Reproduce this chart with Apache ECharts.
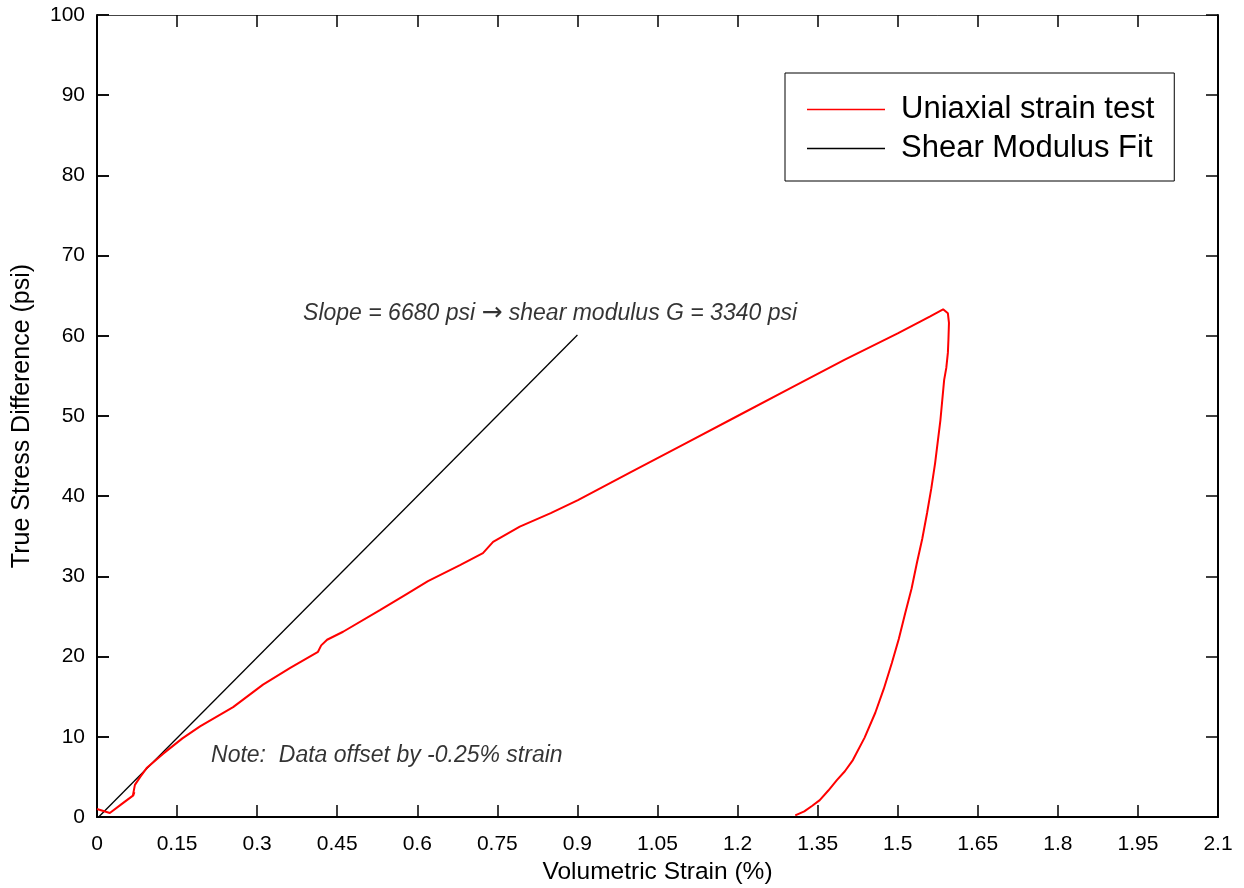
<!DOCTYPE html>
<html>
<head>
<meta charset="utf-8">
<script src="https://cdn.jsdelivr.net/npm/echarts@6/dist/echarts.min.js"></script>
<style>
html,body{margin:0;padding:0;background:#fff;}
#chart{width:1244px;height:888px;}
</style>
</head>
<body>
<div id="chart"></div>
<script>
// ---- data ----
const seriesNames = ['Uniaxial strain test', 'Shear Modulus Fit'];
// Volumetric strain (%) vs true stress difference (psi)
const uniaxialTest = [
  [0.000, 1.0], [0.024, 0.5], [0.046, 1.6], [0.068, 2.7], [0.070, 3.1], [0.067, 2.6],
  [0.071, 4.0], [0.081, 5.0], [0.093, 6.1], [0.124, 7.9], [0.160, 9.8], [0.193, 11.3],
  [0.255, 13.7], [0.311, 16.5], [0.362, 18.6], [0.414, 20.6], [0.420, 21.4],
  [0.431, 22.1], [0.461, 23.1], [0.530, 25.8], [0.580, 27.8], [0.620, 29.4],
  [0.680, 31.4], [0.723, 32.9], [0.742, 34.3], [0.792, 36.2], [0.850, 37.9],
  [0.901, 39.5], [1.000, 43.0], [1.100, 46.5], [1.200, 50.0], [1.300, 53.5],
  [1.400, 57.0], [1.500, 60.3], [1.560, 62.4], [1.585, 63.3], [1.594, 62.8],
  [1.596, 61.6], [1.595, 59.5], [1.594, 57.9], [1.591, 56.0], [1.587, 54.5],
  [1.580, 49.5], [1.570, 44.1], [1.563, 41.0], [1.555, 37.9], [1.546, 34.7],
  [1.536, 31.7], [1.526, 28.5], [1.514, 25.4], [1.502, 22.2], [1.489, 19.2],
  [1.474, 16.0], [1.458, 13.0], [1.438, 9.9], [1.416, 7.1], [1.401, 5.7],
  [1.386, 4.6], [1.370, 3.3], [1.354, 2.1], [1.340, 1.4], [1.325, 0.7], [1.308, 0.2]
];
const shearFit = [[0.003, 0.0], [0.900, 60.1]];
const xTicks = {min: 0, max: 2.1, interval: 0.15};
const yTicks = {min: 0, max: 100, interval: 10};
const annotations = [
  {text: 'Slope = 6680 psi {a|\u2192} shear modulus G = 3340 psi', at: [0.386, 62.8]},
  {text: 'Note:  Data offset by -0.25% strain', at: [0.2136, 7.7]}
];

const FONT = '"Liberation Sans", Arial, Helvetica, sans-serif';
const GRID_L = 97, GRID_R = 26, GRID_T = 15, GRID_B = 71, TICK_LEN = 12;
const chart = echarts.init(document.getElementById('chart'), null, {renderer: 'canvas'});

function axisLine(color, width) { return {show: true, onZero: false, lineStyle: {color: color, width: width}}; }
function tickIn() { return {show: true, inside: true, length: TICK_LEN, lineStyle: {color: '#000', width: 1.5}}; }

const option = {
  animation: false,
  backgroundColor: '#fff',
  grid: [
    {left: GRID_L, right: GRID_R, top: GRID_T, bottom: GRID_B, containLabel: false, outerBoundsMode: 'none'},
    // narrow strip along the left frame: its split lines act as the inward tick marks
    {left: GRID_L, width: TICK_LEN, top: GRID_T, bottom: GRID_B, containLabel: false, outerBoundsMode: 'none', z: 10}
  ],
  legend: {
    data: seriesNames,
    orient: 'vertical',
    left: 785, top: 73,
    padding: [21, 20, 17, 22],
    itemGap: 8,
    icon: 'rect',
    itemWidth: 78, itemHeight: 1.6,
    borderColor: '#000', borderWidth: 1,
    backgroundColor: '#fff',
    selectedMode: false,
    textStyle: {fontFamily: FONT, fontSize: 31, color: '#000', lineHeight: 30, padding: [0, 0, 0, 11]}
  },
  xAxis: [{
    type: 'value', gridIndex: 0, position: 'bottom', min: xTicks.min, max: xTicks.max, interval: xTicks.interval,
    name: 'Volumetric Strain (%)', nameLocation: 'middle', nameGap: 42,
    nameTextStyle: {fontFamily: FONT, fontSize: 24.5, color: '#000'},
    axisLine: axisLine('#000', 2), axisTick: tickIn(), splitLine: {show: false},
    axisLabel: {fontFamily: FONT, fontSize: 21, color: '#000', margin: 17,
      formatter: v => String(Math.round(v * 100) / 100)}
  }, {
    type: 'value', gridIndex: 0, position: 'top', min: xTicks.min, max: xTicks.max, interval: xTicks.interval,
    axisLine: axisLine('#444', 1),
    axisTick: tickIn(), axisLabel: {show: false}, splitLine: {show: false}
  }, {
    type: 'value', gridIndex: 1, min: 0, max: 1, show: false
  }],
  yAxis: [{
    type: 'value', gridIndex: 0, position: 'left', min: yTicks.min, max: yTicks.max, interval: yTicks.interval,
    name: 'True Stress Difference (psi)', nameLocation: 'middle', nameGap: 62,
    nameTextStyle: {fontFamily: FONT, fontSize: 25, color: '#000'},
    axisLine: axisLine('#000', 2), axisTick: tickIn(), splitLine: {show: false},
    axisLabel: {fontFamily: FONT, fontSize: 21, color: '#000', margin: 12}
  }, {
    type: 'value', gridIndex: 0, position: 'right', min: yTicks.min, max: yTicks.max, interval: yTicks.interval,
    axisLine: axisLine('#000', 2), axisTick: tickIn(), axisLabel: {show: false}, splitLine: {show: false}
  }, {
    type: 'value', gridIndex: 1, min: yTicks.min, max: yTicks.max, interval: yTicks.interval,
    axisLine: {show: false, onZero: false}, axisTick: {show: false}, axisLabel: {show: false},
    splitLine: {show: true, lineStyle: {color: '#000', width: 1.5, type: 'solid'}}
  }],
  series: [
    {
      name: seriesNames[0], type: 'line', data: uniaxialTest, showSymbol: false, symbol: 'none',
      xAxisIndex: 0, yAxisIndex: 0,
      lineStyle: {color: '#ff0000', width: 2}, itemStyle: {color: '#ff0000'}, z: 3
    },
    {
      name: seriesNames[1], type: 'line', data: shearFit, showSymbol: false, symbol: 'none',
      xAxisIndex: 0, yAxisIndex: 0,
      lineStyle: {color: '#000', width: 1.3}, itemStyle: {color: '#000'}, z: 2
    },
    {
      name: 'annotations', type: 'scatter', symbolSize: 0, silent: true,
      xAxisIndex: 0, yAxisIndex: 0,
      data: annotations.map(a => ({value: a.at, label: {formatter: a.text}})),
      label: {show: true, position: 'right', distance: 0, fontFamily: FONT, fontSize: 23,
        fontStyle: 'italic', color: '#000',
        rich: {a: {fontFamily: '"DejaVu Sans", sans-serif', fontSize: 25, color: '#000'}}}
    }
  ]
};
chart.setOption(option);
</script>
</body>
</html>
